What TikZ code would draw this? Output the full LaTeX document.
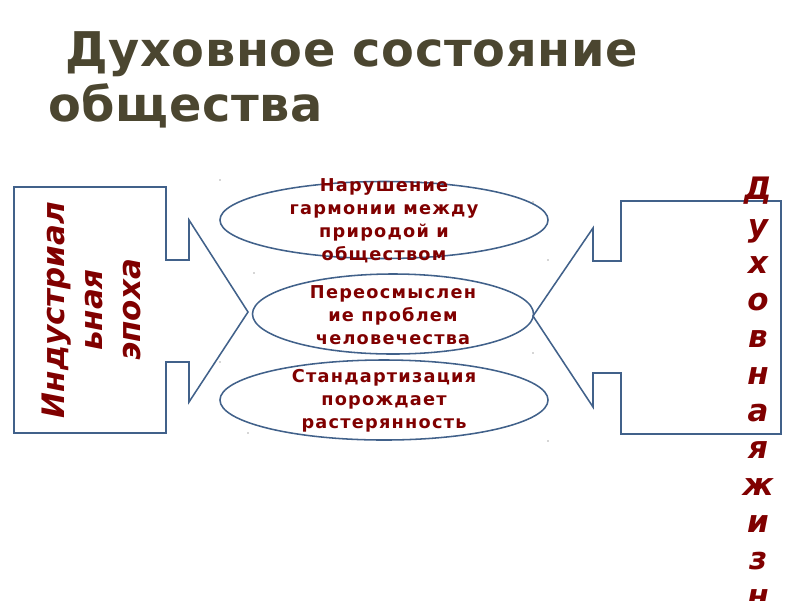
\documentclass[tikz,border=0pt]{standalone}
\usepackage{fontspec}
\setmainfont{DejaVu Sans}
\newfontfamily\ovalfont[LetterSpace=7]{DejaVu Sans}
\newfontfamily\titlefont[LetterSpace=1.3]{DejaVu Sans}
\usetikzlibrary{shapes.geometric}

\definecolor{framecol}{HTML}{41618A}
\definecolor{textred}{HTML}{800000}
\definecolor{titlecol}{HTML}{4B4630}

\begin{document}
\begin{tikzpicture}[x=0.025cm, y=-0.025cm,
    callout/.style={draw=framecol, line width=1.1pt, line join=miter},
    oval/.style={ellipse, draw=framecol, line width=1.1pt, inner sep=0pt},
    ovaltext/.style={text=textred, align=center, inner sep=0pt,
                     font=\ovalfont\bfseries\fontsize{12.6}{16.3}\selectfont},
    sidetext/.style={text=textred, inner sep=0pt,
                     font=\bfseries\itshape\fontsize{22}{27}\selectfont},
    titletext/.style={text=titlecol, inner sep=0pt, anchor=base west,
                      font=\titlefont\bfseries\fontsize{34}{40}\selectfont}]
\useasboundingbox (0,0) rectangle (800,600);

% title
\node[titletext] (title1) at (65,66) {Духовное состояние};
\node[titletext] (title2) at (48,121) {общества};

% left callout
\draw[callout] (14,187) -- (166,187) -- (166,260) -- (189,260) -- (189,220)
  -- (248,312) -- (189,402) -- (189,362) -- (166,362) -- (166,433)
  -- (14,433) -- cycle;
\node[sidetext, rotate=90, align=center] (epoch) at (91,310)
  {Индустриал\\ьная\\эпоха};

% right callout
\draw[callout] (781,201) -- (621,201) -- (621,261) -- (593,261) -- (593,228)
  -- (533,316) -- (593,407) -- (593,373) -- (621,373) -- (621,434)
  -- (781,434) -- cycle;
\foreach \ch [count=\i] in {Д,у,х,о,в,н,а,я,ж,и,з,н}
  \node[sidetext, anchor=base] (life\i) at (758,{162+37*\i}) {\ch};

% ovals
\node[oval, minimum width=8.2cm, minimum height=1.925cm] (harmony) at (384,220) {};
\node[oval, minimum width=7.025cm, minimum height=2cm] (rethink) at (393,314) {};
\node[oval, minimum width=8.2cm, minimum height=2cm] (standard) at (384,400) {};

\node[ovaltext] (harmonytext) at (384,221)
  {Нарушение\\гармонии между\\природой и\\обществом};
\node[ovaltext] (rethinktext) at (393,315)
  {Переосмыслен\\ие проблем\\человечества};
\node[ovaltext] (standardtext) at (384,401)
  {Стандартизация\\порождает\\растерянность};

% stray handle dots
\foreach \p in {(220,180),(533,202),(254,273),(548,260),
                (220,362),(533,353),(248,433),(548,441)}
  \fill[black!70] \p circle (0.5pt);
\end{tikzpicture}
\end{document}
